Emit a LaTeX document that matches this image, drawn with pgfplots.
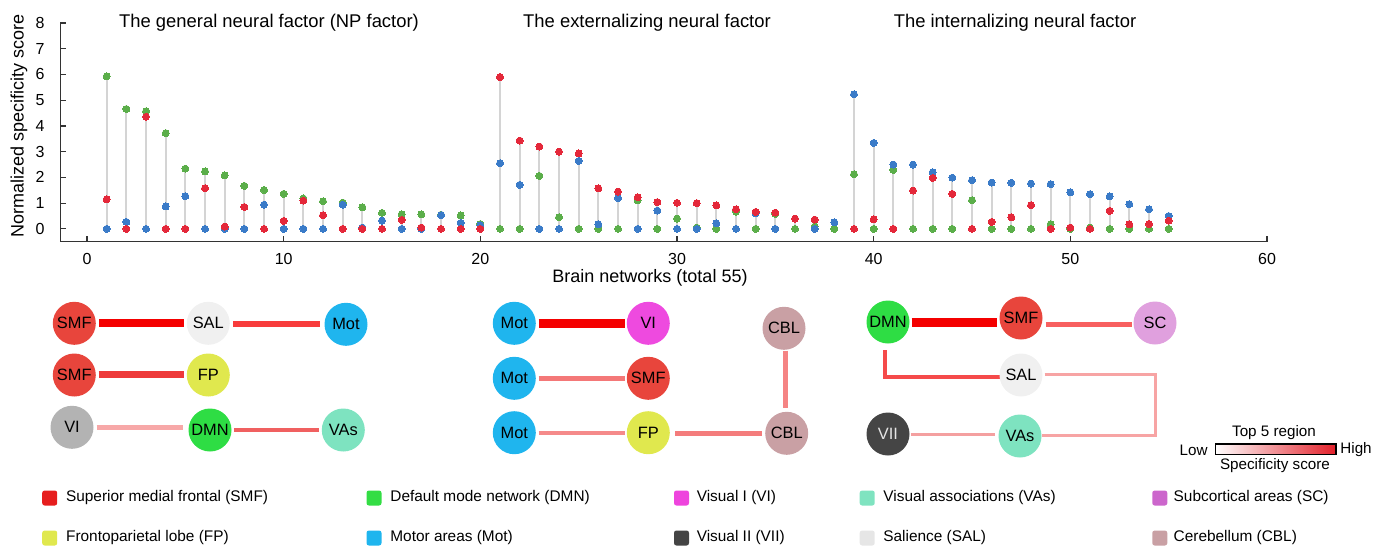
\documentclass[border=0pt]{standalone}
\usepackage{fontspec}
\setmainfont{Liberation Sans}
\usepackage{pgfplots}
\pgfplotsset{compat=1.18}
\usepackage{pgfplotstable}

\definecolor{cred}{HTML}{E4283A}
\definecolor{cblue}{HTML}{3A7BC8}
\definecolor{cgreen}{HTML}{5BAE4A}
\definecolor{stemc}{HTML}{D4D4D4}
\definecolor{cSMF}{HTML}{E8453C}
\definecolor{cSAL}{HTML}{F0F0F0}
\definecolor{cMot}{HTML}{1FB5EE}
\definecolor{cFP}{HTML}{E0E84E}
\definecolor{cVIg}{HTML}{B3B3B3}
\definecolor{cDMN}{HTML}{2EDD44}
\definecolor{cVAs}{HTML}{7EE3C0}
\definecolor{cVI}{HTML}{EE4ADF}
\definecolor{cCBL}{HTML}{C9A0A4}
\definecolor{cSC}{HTML}{E0A0DE}
\definecolor{cVII}{HTML}{454545}
\definecolor{lSMF}{HTML}{E61E1E}
\definecolor{lDMN}{HTML}{33DD44}
\definecolor{lVI}{HTML}{EE44DD}
\definecolor{lVAs}{HTML}{7FE3C0}
\definecolor{lSC}{HTML}{CC66CC}
\definecolor{lFP}{HTML}{E0E84E}
\definecolor{lMot}{HTML}{1FB5EE}
\definecolor{lVII}{HTML}{444444}
\definecolor{lSAL}{HTML}{E6E6E6}
\definecolor{lCBL}{HTML}{C9A0A4}
\definecolor{cbar}{HTML}{E3202A}

\pgfplotstableread{
x y
1 5.93
2 4.66
3 4.57
4 3.72
5 2.34
6 2.23
7 2.08
8 1.67
9 1.51
10 1.36
11 1.18
12 1.07
13 1.02
14 0.84
15 0.62
16 0.57
17 0.56
18 0.55
19 0.52
20 0.19
21 0
22 0
23 2.06
24 0.45
25 0
26 0
27 0
28 1.11
29 0
30 0.40
31 0.05
32 0
33 0.67
34 0
35 0.58
36 0
37 0.09
38 0
39 2.12
40 0
41 2.29
42 0
43 0
44 0
45 1.11
46 0
47 0
48 0
49 0.18
50 0
51 0.05
52 0
53 0
54 0
55 0
}\greentab

\pgfplotstableread{
x y
1 0
2 0.27
3 0
4 0.87
5 1.27
6 0
7 0
8 0
9 0.94
10 0
11 0
12 0
13 0.94
14 0.05
15 0.32
16 0
17 0
18 0.53
19 0.23
20 0.14
21 2.55
22 1.71
23 0
24 0
25 2.64
26 0.17
27 1.20
28 0
29 0.71
30 0
31 0
32 0.21
33 0
34 0.60
35 0
37 0
38 0.25
39 5.23
40 3.34
41 2.50
42 2.50
43 2.20
44 1.99
45 1.89
46 1.80
47 1.79
48 1.76
49 1.74
50 1.42
51 1.35
52 1.26
53 0.96
54 0.76
55 0.50
}\bluetab

\pgfplotstableread{
x y
1 1.15
2 0
3 4.36
4 0
5 0
6 1.58
7 0.09
8 0.85
9 0
10 0.31
11 1.10
12 0.53
13 0
14 0
15 0
16 0.35
17 0.05
18 0
19 0
20 0
21 5.90
22 3.43
23 3.20
24 3.00
25 2.93
26 1.57
27 1.45
28 1.23
29 1.04
30 1.01
31 1.00
32 0.91
33 0.76
34 0.66
35 0.63
36 0.40
37 0.36
39 0
40 0.37
41 0
42 1.49
43 1.98
44 1.36
45 0
46 0.27
47 0.45
48 0.92
49 0
50 0.05
51 0
52 0.70
53 0.17
54 0.19
55 0.32
}\redtab

\begin{document}
\begin{tikzpicture}
\begin{axis}[
  at={(30.25pt,-120.85pt)}, anchor=south west,
  scale only axis, width=603.25pt, height=109.35pt,
  xmin=-1.35, xmax=60, ymin=-0.5, ymax=8,
  axis lines=left, axis line style={-, line width=0.7pt, draw=black!80},
  xtick={0,10,...,60}, ytick={0,1,...,8},
  tick align=inside, major tick length=3pt,
  tick style={line width=0.6pt, draw=black!80},
  ticklabel style={font=\fontsize{8}{9}\selectfont},
  yticklabel style={xshift=-4.5pt},
  xticklabel style={yshift=-2.5pt},
  /pgf/number format/assume math mode=true,
  clip=false,
]
\addplot[ycomb, draw=stemc, line width=1pt, mark=none] table {\greentab};
\addplot[ycomb, draw=stemc, line width=1pt, mark=none] table {\bluetab};
\addplot[ycomb, draw=stemc, line width=1pt, mark=none] table {\redtab};
\addplot[only marks, mark=*, mark size=1.75pt, mark options={fill=cgreen, draw=cgreen, line width=0pt}] table {\greentab};
\addplot[only marks, mark=*, mark size=1.75pt, mark options={fill=cblue, draw=cblue, line width=0pt}] table {\bluetab};
\addplot[only marks, mark=*, mark size=1.75pt, mark options={fill=cred, draw=cred, line width=0pt}] table {\redtab};
\end{axis}

\begin{scope}[x=0.5pt, y=-0.5pt]
\path[use as bounding box] (0,0) rectangle (1388,547);
% titles and labels
\node[anchor=base, inner sep=0pt, font=\fontsize{9.2}{10}\selectfont] at (269,27.5) {The general neural factor (NP factor)};
\node[anchor=base, inner sep=0pt, font=\fontsize{9.2}{10}\selectfont] at (647,27.5) {The externalizing neural factor};
\node[anchor=base, inner sep=0pt, font=\fontsize{9.2}{10}\selectfont] at (1015,27.5) {The internalizing neural factor};
\node[rotate=90, inner sep=0pt, font=\fontsize{9}{10}\selectfont] at (19,126) {Normalized specificity score};
\node[inner sep=0pt, font=\fontsize{9}{10}\selectfont] at (650,278) {Brain networks (total 55)};

\tikzset{net/.style={circle, minimum size=21.5pt, inner sep=0pt, font=\fontsize{8.2}{9}\selectfont}}
% panel 1 links
\draw[line width=4pt, draw={rgb,255:red,244;green,0;blue,0}] (99,323.3) -- (184,323.3);
\draw[line width=3pt, draw={rgb,255:red,248;green,60;blue,60}] (233,324.3) -- (320,324.3);
\draw[line width=3.5pt, draw={rgb,255:red,238;green,58;blue,58}] (98.7,374.7) -- (184,374.7);
\draw[line width=2.5pt, draw={rgb,255:red,247;green,168;blue,168}] (96.7,427) -- (183.3,427);
\draw[line width=1.75pt, draw={rgb,255:red,240;green,96;blue,96}] (234,430) -- (319,430);
\node[net, fill=cSMF] at (74.3,323.3) {SMF};
\node[net, fill=cSAL] at (208.3,323.3) {SAL};
\node[net, fill=cMot] at (346,324.3) {Mot};
\node[net, fill=cSMF] at (74.3,375) {SMF};
\node[net, fill=cFP] at (208.3,375) {FP};
\node[net, fill=cVIg] at (72,427.3) {VI};
\node[net, fill=cDMN] at (210,430) {DMN};
\node[net, fill=cVAs] at (343.3,430) {VAs};
% panel 2 links
\draw[line width=4.3pt, draw={rgb,255:red,244;green,0;blue,0}] (538.7,323.3) -- (624.7,323.3);
\draw[line width=2.2pt, draw={rgb,255:red,244;green,120;blue,120}] (538.7,378.3) -- (624.7,378.3);
\draw[line width=2pt, draw={rgb,255:red,245;green,138;blue,138}] (538.7,433) -- (624.7,433);
\draw[line width=2.3pt, draw={rgb,255:red,244;green,124;blue,124}] (675,433.3) -- (761.7,433.3);
\draw[line width=2.3pt, draw={rgb,255:red,245;green,132;blue,132}] (785.7,350.7) -- (785.7,408.3);
\node[net, fill=cMot] at (514.3,323.3) {Mot};
\node[net, fill=cVI] at (648.3,323.3) {VI};
\node[net, fill=cCBL] at (784,328.3) {CBL};
\node[net, fill=cMot] at (514.3,378.3) {Mot};
\node[net, fill=cSMF] at (648.3,378.3) {SMF};
\node[net, fill=cMot] at (514.3,432.7) {Mot};
\node[net, fill=cFP] at (648.3,432.7) {FP};
\node[net, fill=cCBL] at (786.7,433.3) {CBL};
% panel 3 links
\draw[line width=4.3pt, draw={rgb,255:red,244;green,0;blue,0}] (911.6,322.7) -- (997,322.7);
\draw[line width=2.3pt, draw={rgb,255:red,248;green,96;blue,96}] (1045.6,324.3) -- (1132.2,324.3);
\draw[line width=2.2pt, draw={rgb,255:red,245;green,74;blue,74}] (884.7,350) -- (884.7,376.7) -- (1000.5,376.7);
\draw[line width=1.5pt, draw={rgb,255:red,247;green,164;blue,164}] (1044.6,374) -- (1155.4,374) -- (1155.4,435.7) -- (1042.3,435.7);
\draw[line width=1.6pt, draw={rgb,255:red,244;green,160;blue,160}] (910.6,434.3) -- (994.8,434.3);
\node[net, fill=cDMN] at (888,322) {DMN};
\node[net, fill=cSMF] at (1021,318) {SMF};
\node[net, fill=cSC] at (1155,323) {SC};
\node[net, fill=cSAL] at (1021,375) {SAL};
\node[net, fill=cVII, text=white!90!black] at (888,434) {VII};
\node[net, fill=cVAs] at (1020,436) {VAs};
% colour bar
\shade[left color=white, right color=cbar] (1215.3,444) rectangle (1335.9,454.3);
\draw[line width=0.6pt] (1215.3,444) rectangle (1335.9,454.3);
\tikzset{cbt/.style={inner sep=0pt, font=\fontsize{7.6}{9}\selectfont}}
\node[cbt, anchor=east] at (1208,450) {Low};
\node[cbt, anchor=west] at (1340,450) {High};
\node[cbt] at (1274,432.7) {Top 5 region};
\node[cbt] at (1275,466) {Specificity score};
% legend
\tikzset{lsq/.style={rounded corners=1.2pt, draw=none}, lt/.style={anchor=west, inner sep=0pt, font=\fontsize{7.7}{9}\selectfont}}
\fill[lSMF, lsq] (42.2,490.5) rectangle (57.2,505.5); \node[lt] at (65.7,498) {Superior medial frontal (SMF)};
\fill[lDMN, lsq] (366.5,490.5) rectangle (381.5,505.5); \node[lt] at (390,498) {Default mode network (DMN)};
\fill[lVI, lsq] (674,490.5) rectangle (689,505.5); \node[lt] at (696.4,498) {Visual I (VI)};
\fill[lVAs, lsq] (859.7,490.5) rectangle (874.7,505.5); \node[lt] at (883,498) {Visual associations (VAs)};
\fill[lSC, lsq] (1152.3,490.5) rectangle (1167.3,505.5); \node[lt] at (1173.3,498) {Subcortical areas (SC)};
\fill[lFP, lsq] (42.2,530.5) rectangle (57.2,545.5); \node[lt] at (65.7,538) {Frontoparietal lobe (FP)};
\fill[lMot, lsq] (366.5,530.5) rectangle (381.5,545.5); \node[lt] at (390,538) {Motor areas (Mot)};
\fill[lVII, lsq] (674,530.5) rectangle (689,545.5); \node[lt] at (696.4,538) {Visual II (VII)};
\fill[lSAL, lsq] (859.7,530.5) rectangle (874.7,545.5); \node[lt] at (883,538) {Salience (SAL)};
\fill[lCBL, lsq] (1152.3,530.5) rectangle (1167.3,545.5); \node[lt] at (1173.3,538) {Cerebellum (CBL)};
\end{scope}
\end{tikzpicture}
\end{document}
